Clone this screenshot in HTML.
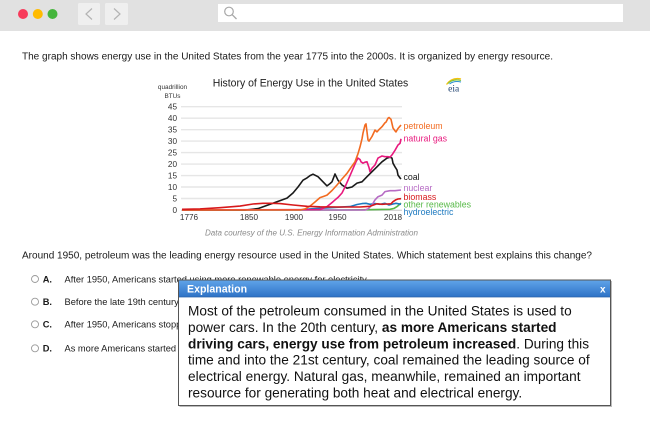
<!DOCTYPE html>
<html>
<head>
<meta charset="utf-8">
<style>
  html,body{margin:0;padding:0;background:#fff;}
  body{width:650px;height:433px;overflow:hidden;position:relative;font-family:"Liberation Sans",Arial,sans-serif;}
  svg{display:block;position:absolute;left:0;top:0;}
</style>
</head>
<body>
<svg width="650" height="433" viewBox="0 0 650 433" xmlns="http://www.w3.org/2000/svg" font-family="Liberation Sans, Arial, sans-serif">
  <defs>
    <linearGradient id="hdr" x1="0" y1="0" x2="0" y2="1">
      <stop offset="0" stop-color="#5fa3e8"/>
      <stop offset="1" stop-color="#2d72c6"/>
    </linearGradient>
  </defs>

  <!-- browser chrome -->
  <rect x="0" y="0" width="650" height="31" fill="#e1e1e1"/>
  <circle cx="23" cy="14" r="5" fill="#f73a5a"/>
  <circle cx="37.8" cy="14" r="5" fill="#ffbb00"/>
  <circle cx="52.5" cy="14" r="5" fill="#45b53c"/>
  <rect x="78" y="3" width="22" height="22" rx="1.5" fill="#efefef"/>
  <polyline points="92,8.5 86,14 92,19.5" fill="none" stroke="#b3b3b3" stroke-width="1.2"/>
  <rect x="105" y="3" width="23" height="22" rx="1.5" fill="#efefef"/>
  <polyline points="114,8.5 120,14 114,19.5" fill="none" stroke="#b3b3b3" stroke-width="1.2"/>
  <rect x="218" y="4" width="405" height="18" fill="#ffffff"/>
  <circle cx="229" cy="11.5" r="4.3" fill="none" stroke="#a8a8a8" stroke-width="1.2"/>
  <line x1="232.2" y1="14.7" x2="236.5" y2="19" stroke="#a8a8a8" stroke-width="1.3"/>

  <!-- intro text -->
  <text x="22" y="59.6" font-size="9.8" fill="#1a1a1a" textLength="531" lengthAdjust="spacingAndGlyphs">The graph shows energy use in the United States from the year 1775 into the 2000s. It is organized by energy resource.</text>

  <!-- chart title -->
  <text x="212.7" y="86.3" font-size="10.6" fill="#222" textLength="195.6" lengthAdjust="spacingAndGlyphs">History of Energy Use in the United States</text>
  <text x="172.5" y="88.8" font-size="6.4" fill="#333" text-anchor="middle">quadrillion</text>
  <text x="172.5" y="97.8" font-size="6.4" fill="#333" text-anchor="middle">BTUs</text>

  <!-- eia logo -->
  <path d="M446.5,84.5 Q452,77 461,79" fill="none" stroke="#f4c20d" stroke-width="1.3"/>
  <path d="M448,83.5 Q453,78.5 461,80.5" fill="none" stroke="#7cc242" stroke-width="1.1"/>
  <path d="M449.5,84 Q454,80.5 461,82" fill="none" stroke="#2a8fd0" stroke-width="1"/>
  <text x="453.7" y="91.5" font-size="9.5" fill="#1d3f6e" text-anchor="middle" font-family="Liberation Serif, serif">eia</text>

  <!-- gridlines -->
  <g stroke="#e6e6e6" stroke-width="1.4">
    <line x1="181" y1="106.7" x2="402" y2="106.7"/>
    <line x1="181" y1="118.2" x2="402" y2="118.2"/>
    <line x1="181" y1="129.7" x2="402" y2="129.7"/>
    <line x1="181" y1="141.1" x2="402" y2="141.1"/>
    <line x1="181" y1="152.6" x2="402" y2="152.6"/>
    <line x1="181" y1="164.1" x2="402" y2="164.1"/>
    <line x1="181" y1="175.6" x2="402" y2="175.6"/>
    <line x1="181" y1="187.0" x2="402" y2="187.0"/>
    <line x1="181" y1="198.5" x2="402" y2="198.5"/>
  </g>
  <line x1="181" y1="210.3" x2="402" y2="210.3" stroke="#d6d6d6" stroke-width="1.4"/>

  <!-- y tick labels -->
  <g font-size="8.2" fill="#333" text-anchor="end">
    <text x="177" y="109.7">45</text>
    <text x="177" y="121.2">40</text>
    <text x="177" y="132.7">35</text>
    <text x="177" y="144.1">30</text>
    <text x="177" y="155.6">25</text>
    <text x="177" y="167.1">20</text>
    <text x="177" y="178.6">15</text>
    <text x="177" y="190.0">10</text>
    <text x="177" y="201.5">5</text>
    <text x="177" y="213.0">0</text>
  </g>
  <!-- x tick labels -->
  <g font-size="8.2" fill="#333" text-anchor="middle">
    <text x="189" y="219.8">1776</text>
    <text x="249" y="219.8">1850</text>
    <text x="294" y="219.8">1900</text>
    <text x="337.5" y="219.8">1950</text>
    <text x="393" y="219.8">2018</text>
  </g>

  <!-- series -->
  <g fill="none" stroke-width="1.6" stroke-linejoin="round">
    <!-- other renewables -->
    <polyline stroke="#57b947" points="182,210 340,210 360,209.8 390,209.3 394,208.4 397,206.6 401,203.1"/>
    <!-- hydro -->
    <polyline stroke="#1e7ac0" points="182,210 300,210 310,208.9 330,207.7 345,206.8 350,206.6 357,204.5 362,203.6 366,203.3 370,204.3 375,203.6 380,204.3 385,203.3 389,205 393,204 396,203.3 401,204.3"/>
    <!-- nuclear -->
    <polyline stroke="#b66bc4" points="182,210 365,210 368,208.9 372,205 375,199.9 378,196.7 382,195.1 385,191.6 390,190.7 395,190.7 401,190"/>
    <!-- coal -->
    <polyline stroke="#1a1a1a" points="182,210 245,210 250,209.5 258,208.6 267,205.4 277,201.7 287,198.1 293,193 298,187 303,180.2 307,177.9 310,175.6 313,174.2 318,176.7 323,181.8 327,185.9 330,183.6 332,181.8 335,174 338,180.2 342,185 347,188.2 352,187 357,183.1 362,181.8 367,176.7 372,171.7 377,166.8 382,161.8 387,158.1 390,157.2 392,158.1 393,163.2 395,166.8 397,170 398,175.1 400,177.9 401,179"/>
    <!-- natural gas -->
    <polyline stroke="#e8197e" points="182,210 320,209.5 327,206.6 333,201.7 338,197.4 342,193 345,187 348,180.2 351,173.3 353,168.7 356,161.8 358,158.1 360,159.5 361,161.8 363,163.2 365,162.2 367,161.8 369,167.5 370,171.7 372,168.2 375,165 378,158.1 382,156 385,156.7 388,156.7 390,157.2 392,154.9 395,150.3 398,145 400,143.4 401,138.8"/>
    <!-- petroleum -->
    <polyline stroke="#f26b21" points="182,210 300,210 305,208.9 310,206.1 315,202 320,197.6 324,196.2 327,195.1 332,190.5 337,185 342,179 347,173.3 351,167.5 355,161.8 358,153.7 360,146.9 362,138.8 363,133.1 365,125 366,123.9 367,131.9 368,140 369,141.1 372,136.5 375,130.1 377,131.9 379,129.6 382,126.7 385,122.8 386,122.1 388,118.2 389,117.5 391,119.3 393,128 395,130.8 396,131.9 398,128.5 400,126.2 401,125"/>
    <!-- biomass -->
    <polyline stroke="#d7191c" points="182,209.3 200,208.9 220,207.7 240,206.1 253,204 263,203.3 272,203.3 280,203.6 293,205 307,206.3 320,206.8 340,207 360,207 370,206.3 377,203.8 382,204.3 387,204 391,203.8 393,201.7 396,199.7 398,199 401,198.7"/>
  </g>

  <!-- series labels -->
  <g font-size="8.8">
    <text x="403.5" y="129" fill="#f26b21">petroleum</text>
    <text x="403.5" y="141.6" fill="#e8197e">natural gas</text>
    <text x="403.5" y="180" fill="#1a1a1a">coal</text>
    <text x="403.5" y="191" fill="#b66bc4">nuclear</text>
    <text x="403.5" y="200" fill="#d7191c">biomass</text>
    <text x="403.5" y="207.6" fill="#57b947">other renewables</text>
    <text x="403.5" y="215" fill="#1e7ac0">hydroelectric</text>
  </g>

  <text x="205" y="235.6" font-size="8" font-style="italic" fill="#8a8a8a" textLength="213" lengthAdjust="spacingAndGlyphs">Data courtesy of the U.S. Energy Information Administration</text>

  <!-- question -->
  <text x="22" y="258.5" font-size="9.7" fill="#1a1a1a" textLength="570" lengthAdjust="spacingAndGlyphs">Around 1950, petroleum was the leading energy resource used in the United States. Which statement best explains this change?</text>

  <!-- options -->
  <g font-size="9.3" fill="#1a1a1a">
    <circle cx="35" cy="279" r="3.5" fill="#fff" stroke="#9a9a9a" stroke-width="0.9"/>
    <text x="42.7" y="282.3" font-weight="bold">A.</text>
    <text x="64.5" y="282.3">After 1950, Americans started using more renewable energy for electricity.</text>

    <circle cx="35" cy="301.7" r="3.5" fill="#fff" stroke="#9a9a9a" stroke-width="0.9"/>
    <text x="42.7" y="305" font-weight="bold">B.</text>
    <text x="64.5" y="305">Before the late 19th century, Americans used mostly wood for energy.</text>

    <circle cx="35" cy="324.3" r="3.5" fill="#fff" stroke="#9a9a9a" stroke-width="0.9"/>
    <text x="42.7" y="327.6" font-weight="bold">C.</text>
    <text x="64.5" y="327.6">After 1950, Americans stopped using coal for electricity.</text>

    <circle cx="35" cy="348.3" r="3.5" fill="#fff" stroke="#9a9a9a" stroke-width="0.9"/>
    <text x="42.7" y="351.6" font-weight="bold">D.</text>
    <text x="64.5" y="351.6">As more Americans started driving cars, energy use from petroleum increased.</text>
  </g>

  <!-- explanation box -->
  <rect x="179.5" y="281" width="432.5" height="126" fill="#777" opacity="0.5"/>
  <rect x="178.5" y="280" width="432" height="125.5" fill="#ffffff" stroke="#555" stroke-width="1"/>
  <rect x="179" y="280.5" width="431" height="16.5" fill="url(#hdr)"/>
  <line x1="179" y1="297" x2="610" y2="297" stroke="#2a62a8" stroke-width="0.8"/>
  <text x="187" y="292.3" font-size="10.6" font-weight="bold" fill="#ffffff">Explanation</text>
  <text x="600" y="292.3" font-size="10" font-weight="bold" fill="#ffffff">x</text>

  <g font-size="13.65" fill="#111">
    <text x="188" y="315.5">Most of the petroleum consumed in the United States is used to</text>
    <text x="188" y="331.9">power cars. In the 20th century, <tspan font-weight="bold">as more Americans started</tspan></text>
    <text x="188" y="348.3"><tspan font-weight="bold">driving cars, energy use from petroleum increased</tspan>. During this</text>
    <text x="188" y="364.7">time and into the 21st century, coal remained the leading source of</text>
    <text x="188" y="381.1">electrical energy. Natural gas, meanwhile, remained an important</text>
    <text x="188" y="397.5">resource for generating both heat and electrical energy.</text>
  </g>
</svg>
</body>
</html>
